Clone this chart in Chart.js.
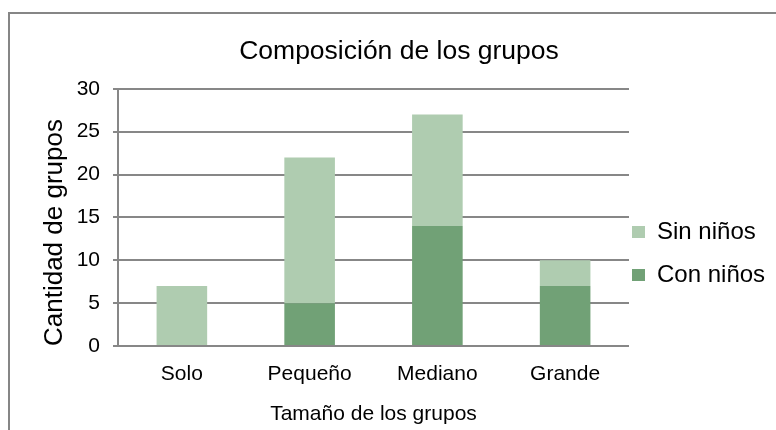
<!DOCTYPE html>
<html>
<head>
<meta charset="utf-8">
<script src="https://cdn.jsdelivr.net/npm/chart.js@4.4.1/dist/chart.umd.min.js"></script>
<style>
  html, body { margin: 0; padding: 0; background: #fff; overflow: hidden; }
  #frame { position: absolute; left: 8px; top: 12px; width: 800px; height: 430px; border-top: 2px solid #868686; border-left: 2px solid #868686; }
  #wrap { position: absolute; left: 0; top: 0; width: 776px; height: 430px; }
</style>
</head>
<body>
<div id="frame"></div>
<div id="wrap"><canvas id="chart" width="776" height="430"></canvas></div>
<script>
const categories = ['Solo', 'Pequeño', 'Mediano', 'Grande'];
const conNinos = [0, 5, 14, 7];
const sinNinos = [7, 17, 13, 3];

const darkGreen = '#71a176';
const lightGreen = '#afccb0';
const gridGray = '#878787';

Chart.defaults.font.family = "'Liberation Sans', Arial, sans-serif";
Chart.defaults.color = '#000';

// moves the legend next to the plot (labels.padding also sets the row gap)
const legendPlace = {
  id: 'legendPlace',
  afterLayout(chart) {
    const lg = chart.legend;
    lg.left = chart.chartArea.right + 3 - 19;
    lg.width = 170;
    lg.right = lg.left + lg.width;
    lg.top = 201;
    lg.height = 120;
    lg.bottom = lg.top + lg.height;
  }
};

const ctx = document.getElementById('chart').getContext('2d');
new Chart(ctx, {
  type: 'bar',
  data: {
    labels: categories,
    datasets: [
      {
        label: 'Con niños',
        data: conNinos,
        backgroundColor: darkGreen,
        borderWidth: 0,
        categoryPercentage: 1,
        barPercentage: 0.396
      },
      {
        label: 'Sin niños',
        data: sinNinos,
        backgroundColor: lightGreen,
        borderWidth: 0,
        categoryPercentage: 1,
        barPercentage: 0.396
      }
    ]
  },
  options: {
    responsive: false,
    animation: false,
    layout: { padding: { left: 29, right: 7, top: 0, bottom: 0 } },
    scales: {
      x: {
        stacked: true,
        grid: { display: false, drawTicks: false },
        border: { display: false },
        ticks: { padding: 16, font: { size: 21 } },
        title: {
          display: true,
          text: 'Tamaño de los grupos',
          font: { size: 21 },
          padding: { top: 0, bottom: 3 }
        },
        afterFit: function(scale) {
          scale.height = 84;
        }
      },
      y: {
        stacked: true,
        min: 0,
        max: 30,
        ticks: { stepSize: 5, padding: 13, font: { size: 21 } },
        grid: { color: gridGray, lineWidth: 2, tickLength: 5 },
        border: { color: gridGray, width: 2 },
        title: {
          display: true,
          text: 'Cantidad de grupos',
          align: 'start',
          font: { size: 26 },
          padding: { top: 10, bottom: 0 }
        },
        afterFit: function(scale) {
          scale.width = 89;
        }
      }
    },
    plugins: {
      title: {
        display: true,
        text: 'Composición de los grupos',
        font: { size: 26.5, weight: 'normal' },
        padding: { top: 36, bottom: 21 }
      },
      legend: {
        position: 'right',
        align: 'start',
        maxWidth: 140,
        reverse: true,
        labels: { boxWidth: 13, boxHeight: 12, padding: 19, font: { size: 24 } }
      },
      tooltip: { enabled: false }
    }
  },
  plugins: [legendPlace]
});
</script>
</body>
</html>
